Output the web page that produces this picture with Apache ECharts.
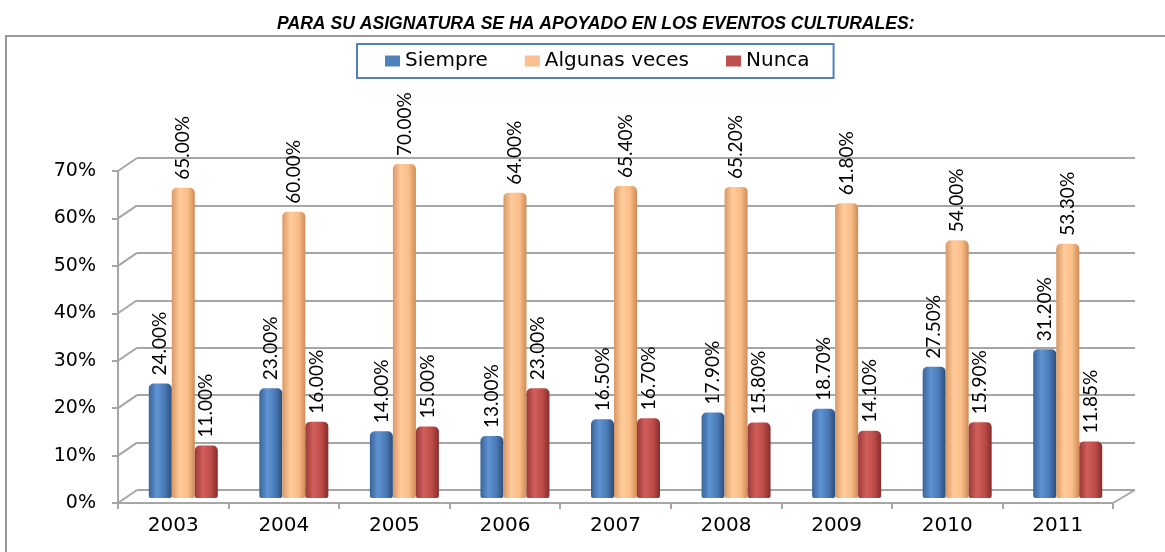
<!DOCTYPE html>
<html>
  <head>
    <meta charset="utf-8">
    <title>Eventos culturales</title>
    <script src="https://cdn.jsdelivr.net/npm/echarts/dist/echarts.min.js"></script>
    <style>
      html, body { margin: 0; padding: 0; background: #fff; }
    </style>
  </head>
  <body>
    <div id="chart" style="width: 1165px; height: 552px;"></div>
    <script type="text/javascript">
      var years = ['2003', '2004', '2005', '2006', '2007', '2008', '2009', '2010', '2011'];
      var siempre = [24, 23, 14, 13, 16.5, 17.9, 18.7, 27.5, 31.2];
      var algunasVeces = [65, 60, 70, 64, 65.4, 65.2, 61.8, 54, 53.3];
      var nunca = [11, 16, 15, 23, 16.7, 15.8, 14.1, 15.9, 11.85];
      var yTicks = [0, 10, 20, 30, 40, 50, 60, 70];

      var gridGray = '#a6a6a6';
      var axisFont = 'DejaVu Sans';

      function cylinder(edge, light, mid, dark) {
        return new echarts.graphic.LinearGradient(0, 0, 1, 0, [
          { offset: 0, color: edge },
          { offset: 0.35, color: light },
          { offset: 0.7, color: mid },
          { offset: 1, color: dark }
        ]);
      }

      function barSeries(name, values, color) {
        return {
          type: 'bar',
          name: name,
          xAxisIndex: 1,
          yAxisIndex: 1,
          data: values,
          barWidth: 23,
          barGap: '0%',
          z: 3,
          itemStyle: { color: color, borderRadius: [5, 5, 2, 2] },
          label: {
            show: true,
            position: 'top',
            rotate: 90,
            align: 'left',
            verticalAlign: 'middle',
            distance: 8,
            fontFamily: 'Lato',
            fontSize: 19,
            color: '#000',
            formatter: function (p) { return p.value.toFixed(2) + '%'; }
          }
        };
      }

      var chart = echarts.init(document.getElementById('chart'));

      chart.setOption({
        backgroundColor: '#fff',
        animation: false,
        title: {
          text: 'PARA SU ASIGNATURA SE HA APOYADO EN LOS EVENTOS CULTURALES:',
          left: 272,
          top: 10,
          textStyle: {
            fontFamily: 'Liberation Sans',
            fontStyle: 'italic',
            fontWeight: 'bold',
            fontSize: 17.6,
            color: '#000'
          }
        },
        graphic: [{
          type: 'rect',
          shape: { x: 6, y: 36, width: 1200, height: 600 },
          style: { fill: 'none', stroke: '#999', lineWidth: 2 },
          silent: true
        }],
        legend: {
          left: 357,
          top: 44,
          padding: [7, 24, 7, 28],
          borderColor: '#4F81BD',
          borderWidth: 2,
          itemWidth: 15,
          itemHeight: 11,
          itemGap: 37,
          icon: 'rect',
          textStyle: { fontFamily: axisFont, fontSize: 20, color: '#000' },
          data: [
            { name: 'Siempre', itemStyle: { color: '#4F81BD' } },
            { name: 'Algunas veces', itemStyle: { color: '#FAC090' } },
            { name: 'Nunca', itemStyle: { color: '#C0504D' } }
          ]
        },
        grid: [
          // front: axis labels and ticks
          { left: 118, right: 52, top: 171, bottom: 49 },
          // middle: bars
          { left: 128, right: 42, top: 164, bottom: 54 },
          // back wall: gridlines
          { left: 137, right: 30, top: 158, bottom: 62 }
        ],
        xAxis: [
          {
            gridIndex: 0,
            type: 'category',
            data: years,
            axisLine: { lineStyle: { color: gridGray, width: 2 } },
            axisTick: { show: true, length: 6, lineStyle: { color: gridGray, width: 2 } },
            axisLabel: { fontFamily: axisFont, fontSize: 20, color: '#000', margin: 13 }
          },
          { gridIndex: 1, type: 'category', data: years, show: false },
          { gridIndex: 2, type: 'category', data: years, show: false }
        ],
        yAxis: [
          {
            gridIndex: 0,
            type: 'value',
            min: 0,
            max: 70,
            interval: 10,
            axisLine: { show: true, lineStyle: { color: gridGray, width: 2 } },
            axisTick: { show: true, length: 6, lineStyle: { color: gridGray, width: 2 } },
            splitLine: { show: false },
            axisLabel: { fontFamily: axisFont, fontSize: 19, color: '#000', margin: 22, formatter: '{value}%' }
          },
          { gridIndex: 1, type: 'value', min: 0, max: 70, interval: 10, show: false, splitLine: { show: false } },
          {
            gridIndex: 2,
            type: 'value',
            min: 0,
            max: 70,
            interval: 10,
            axisLine: { show: false },
            axisTick: { show: false },
            axisLabel: { show: false },
            splitLine: { show: true, lineStyle: { color: gridGray, width: 2 } }
          }
        ],
        series: [
          {
            // side wall / floor edges linking the front axis to the back wall
            type: 'custom',
            xAxisIndex: 0,
            yAxisIndex: 0,
            silent: true,
            z: 1,
            data: yTicks.map(function (v) { return [0, v]; }),
            renderItem: function (params, api) {
              var cs = params.coordSys;
              var y = api.coord([0, api.value(1)])[1];
              var lines = [{
                type: 'line',
                shape: { x1: cs.x, y1: y, x2: cs.x + 19, y2: y - 13 },
                style: { stroke: gridGray, lineWidth: 2 }
              }];
              if (api.value(1) === 0) {
                lines.push({
                  type: 'line',
                  shape: { x1: cs.x + cs.width, y1: y, x2: cs.x + cs.width + 22, y2: y - 13 },
                  style: { stroke: gridGray, lineWidth: 2 }
                });
              }
              return { type: 'group', children: lines };
            }
          },
          barSeries('Siempre', siempre, cylinder('#3a6498', '#5f93d3', '#4a7ab6', '#2b4e7b')),
          barSeries('Algunas veces', algunasVeces, cylinder('#d99866', '#ffcb9b', '#f9bd88', '#cf8b55')),
          barSeries('Nunca', nunca, cylinder('#983a38', '#d25e5b', '#bd4c49', '#852d2b'))
        ]
      });
    </script>
  </body>
</html>
